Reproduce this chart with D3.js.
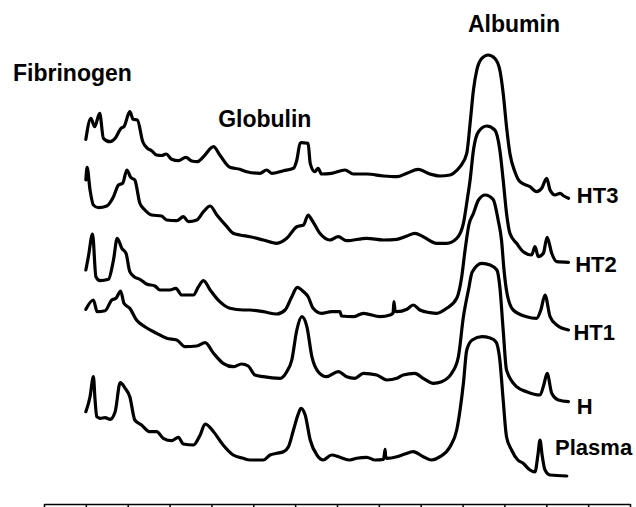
<!DOCTYPE html>
<html>
<head>
<meta charset="utf-8">
<script src="https://cdn.jsdelivr.net/npm/d3@7/dist/d3.min.js"></script>
<style>
  html, body { margin: 0; padding: 0; background: #fff; }
  svg { display: block; }
  .lbl { font-family: "Liberation Sans", Arial, sans-serif; font-weight: bold; font-size: 22px; fill: #000; }
  .band { font-size: 23px; }
</style>
</head>
<body>
<svg id="chart" width="636" height="507"></svg>
<script>
// Densitometric scans of protein bands; x = migration position, y = intensity (a.u.)
const seriesNames = ["HT3", "HT2", "HT1", "H", "Plasma"];
// vertical offset of each stacked scan (a.u.)
const seriesOffsets = [300, 234, 162, 90, 18];

const ht3 = [[1.00,64.7],[1.12,85.7],[1.21,77.3],[1.33,90.7],[1.42,65.7],[1.58,62.3],[1.70,65.7],[1.84,75.7],[1.91,77.3],[2.05,92.3],[2.13,84.7],[2.23,84],[2.36,62.3],[2.47,55.7],[2.57,53.3],[2.69,49],[2.81,48.5],[2.92,50],[3.05,44.7],[3.21,43.3],[3.39,46.7],[3.53,43],[3.66,42.3],[3.81,47.3],[4.05,57.3],[4.20,49],[4.44,36.7],[4.68,34.7],[4.84,32.3],[5.16,30.7],[5.32,34],[5.44,30.7],[5.72,33.3],[5.96,35.7],[6.04,44],[6.12,60.7],[6.16,61.3],[6.24,61],[6.31,60.7],[6.36,40.7],[6.47,32.3],[6.55,35.7],[6.63,30],[6.87,30.7],[7.19,34],[7.39,30],[7.71,30],[8.11,28],[8.43,27.3],[8.67,30.7],[8.94,34.7],[9.22,30],[9.46,28],[9.70,29],[9.78,30.7],[9.94,37.3],[10.10,50.7],[10.18,80.7],[10.26,114],[10.34,134],[10.46,145.7],[10.61,149],[10.77,145.7],[10.89,134],[10.97,110.7],[11.05,77.3],[11.13,50.7],[11.25,32.3],[11.37,22.3],[11.61,17.3],[11.77,12.3],[11.89,15.7],[12.01,25.7],[12.09,14],[12.21,9],[12.33,10.7],[12.42,8],[12.53,5.7]];

const ht2 = [[1.00,90],[1.03,102.7],[1.10,80],[1.18,65],[1.30,62.3],[1.50,64],[1.66,73.3],[1.78,85],[1.88,86.7],[1.98,100],[2.07,92.7],[2.17,90],[2.29,66.7],[2.41,60],[2.57,55],[2.81,54],[2.93,50],[3.17,49.3],[3.33,53.3],[3.45,48.3],[3.65,50],[3.81,58.3],[3.97,64],[4.13,55],[4.37,43.3],[4.52,36.7],[4.68,35],[4.92,33.3],[5.24,30],[5.56,26.7],[5.80,31.7],[6.04,43.3],[6.20,45],[6.31,55],[6.40,50],[6.59,36.7],[6.83,30],[7.03,33.3],[7.23,29.3],[7.71,31.7],[8.11,30],[8.43,30.7],[8.67,34],[8.86,36.7],[9.06,33.3],[9.38,26.7],[9.62,26.7],[9.86,31.7],[10.02,46.7],[10.11,70],[10.18,90],[10.26,120],[10.38,138.3],[10.58,144],[10.77,140],[10.89,120],[10.97,90],[11.05,56.7],[11.13,36.7],[11.29,26.7],[11.45,18.3],[11.65,15],[11.73,23.3],[11.81,13.3],[11.93,16.7],[12.02,32.7],[12.13,16.7],[12.25,8.3],[12.53,7.7]];

const ht1 = [[1.00,72],[1.06,85.3],[1.16,108],[1.24,65.3],[1.34,61.3],[1.54,62.7],[1.66,82],[1.75,103.7],[1.86,93.7],[1.96,88.7],[2.05,70.3],[2.17,64.7],[2.29,62.7],[2.45,58],[2.65,56],[2.77,52],[3.01,52],[3.15,53.7],[3.29,47],[3.57,47],[3.69,55.3],[3.81,61.3],[3.97,52],[4.20,40.3],[4.44,33.7],[4.76,32],[4.92,32],[5.24,30.3],[5.56,28],[5.76,32],[5.92,45.3],[6.05,54.7],[6.20,50.3],[6.31,45.3],[6.43,33.7],[6.63,28.7],[6.87,30.3],[7.07,30.3],[7.11,26],[7.39,25.3],[7.63,28.7],[8.03,25.3],[8.27,27],[8.34,29],[8.36,40.3],[8.39,31],[8.43,30.3],[8.67,32.7],[8.82,37],[8.98,32],[9.22,29.3],[9.38,28.7],[9.62,33.7],[9.86,43.7],[9.98,65.3],[10.06,92],[10.15,117],[10.26,128.7],[10.38,142],[10.54,147],[10.73,142.7],[10.85,122],[10.93,102],[10.99,72],[11.06,49],[11.21,32],[11.53,25.3],[11.77,23.7],[11.87,32],[11.97,47],[12.09,25.3],[12.25,17],[12.53,12]];

const hScan = [[1.00,104.7],[1.18,114],[1.27,102.3],[1.46,103.3],[1.62,114],[1.72,115.7],[1.83,123],[1.91,110.7],[2.05,105.7],[2.21,94],[2.41,87.3],[2.69,80.7],[2.93,75.7],[3.17,74],[3.37,67.3],[3.65,68],[3.85,71.3],[4.05,60.7],[4.28,50.7],[4.52,47.3],[4.72,50],[4.88,48],[5.04,39],[5.24,37.3],[5.64,35.7],[5.80,42.3],[5.92,54],[6.04,84],[6.16,97.3],[6.28,87.3],[6.40,57.3],[6.55,42.3],[6.75,37.3],[7.03,42.3],[7.23,37.3],[7.43,35.7],[7.63,40.7],[7.95,39],[8.19,34],[8.43,35.7],[8.58,39],[8.86,40.7],[9.06,35.7],[9.30,30.7],[9.50,32.3],[9.74,40.7],[9.90,57.3],[10.02,97.3],[10.14,124],[10.23,142],[10.46,150.7],[10.66,149],[10.82,144],[10.89,127.3],[10.97,84],[11.05,44],[11.29,27.3],[11.53,22.3],[11.85,19],[11.94,29],[12.02,40.7],[12.13,20.7],[12.29,14],[12.53,12.3]];

const plasma = [[1.00,74.3],[1.10,89.3],[1.18,109.3],[1.22,86],[1.26,69.3],[1.34,67.7],[1.46,68.3],[1.58,66.7],[1.70,74.3],[1.82,103.3],[1.94,97.7],[2.05,89.3],[2.17,66],[2.33,61],[2.53,54.3],[2.69,54.3],[2.85,47.7],[3.05,45.3],[3.21,48.7],[3.33,42],[3.57,41],[3.73,51],[3.85,62],[4.05,54.3],[4.28,41],[4.52,31],[4.76,27.7],[4.92,26],[5.24,26],[5.40,31],[5.56,32.7],[5.72,34.3],[5.84,39.3],[5.96,56],[6.08,72.7],[6.14,77.7],[6.24,71],[6.36,46],[6.52,31],[6.67,26],[6.87,31],[7.07,28.7],[7.31,26],[7.47,27.7],[7.71,28.7],[7.91,26],[8.11,26.7],[8.13,31],[8.15,36.7],[8.16,30],[8.19,27.7],[8.43,29.3],[8.62,32],[8.82,34.3],[9.06,29.3],[9.26,26],[9.46,29.3],[9.70,39.3],[9.86,56],[9.94,76],[10.02,102.7],[10.10,136],[10.23,146],[10.46,149.3],[10.66,148],[10.80,144],[10.89,126],[10.97,86],[11.05,49.3],[11.17,36],[11.32,26],[11.44,23],[11.61,16],[11.73,14],[11.80,31],[11.85,46],[11.90,31],[11.97,16],[12.09,11],[12.49,10]];

const seriesValues = [ht3, ht2, ht1, hScan, plasma];

// label anchors in data units: [x, y]
const seriesLabelPos = [[12.73, 301], [12.69, 232.3], [12.65, 164], [12.73, 90], [12.21, 49]];
const bandLabels = ["Fibrinogen", "Globulin", "Albumin"];
const bandLabelPos = [[-0.74, 423], [4.16, 377], [10.13, 472]];

const tickValues = d3.range(0, 15);

const svg = d3.select("#chart");
const x = d3.scaleLinear().domain([0, 14]).range([44, 630]);
const y = d3.scaleLinear().domain([0, 504]).range([504, 0]);

const line = d3.line()
  .x(d => x(d[0]))
  .y(d => y(d[1]))
  .curve(d3.curveMonotoneX);

seriesValues.forEach((vals, i) => {
  const off = seriesOffsets[i];
  svg.append("path")
    .datum(vals.map(d => [d[0], d[1] + off]))
    .attr("fill", "none")
    .attr("stroke", "#000")
    .attr("stroke-width", 3.2)
    .attr("stroke-linejoin", "round")
    .attr("stroke-linecap", "round")
    .attr("d", line);
});

svg.selectAll("text.series")
  .data(seriesNames)
  .join("text")
  .attr("class", "lbl series")
  .attr("x", (d, i) => x(seriesLabelPos[i][0]))
  .attr("y", (d, i) => y(seriesLabelPos[i][1]))
  .text(d => d);

svg.selectAll("text.band")
  .data(bandLabels)
  .join("text")
  .attr("class", "lbl band")
  .attr("x", (d, i) => x(bandLabelPos[i][0]))
  .attr("y", (d, i) => y(bandLabelPos[i][1]))
  .text(d => d);

const axis = d3.axisBottom(x)
  .tickValues(tickValues)
  .tickSize(5)
  .tickSizeOuter(0)
  .tickFormat("");

const g = svg.append("g")
  .attr("transform", `translate(0,${y(0)})`)
  .call(axis);
g.select(".domain").attr("stroke", "#000").attr("stroke-width", 1.5);
g.selectAll(".tick line").attr("stroke", "#000").attr("stroke-width", 1.5);
</script>
</body>
</html>
